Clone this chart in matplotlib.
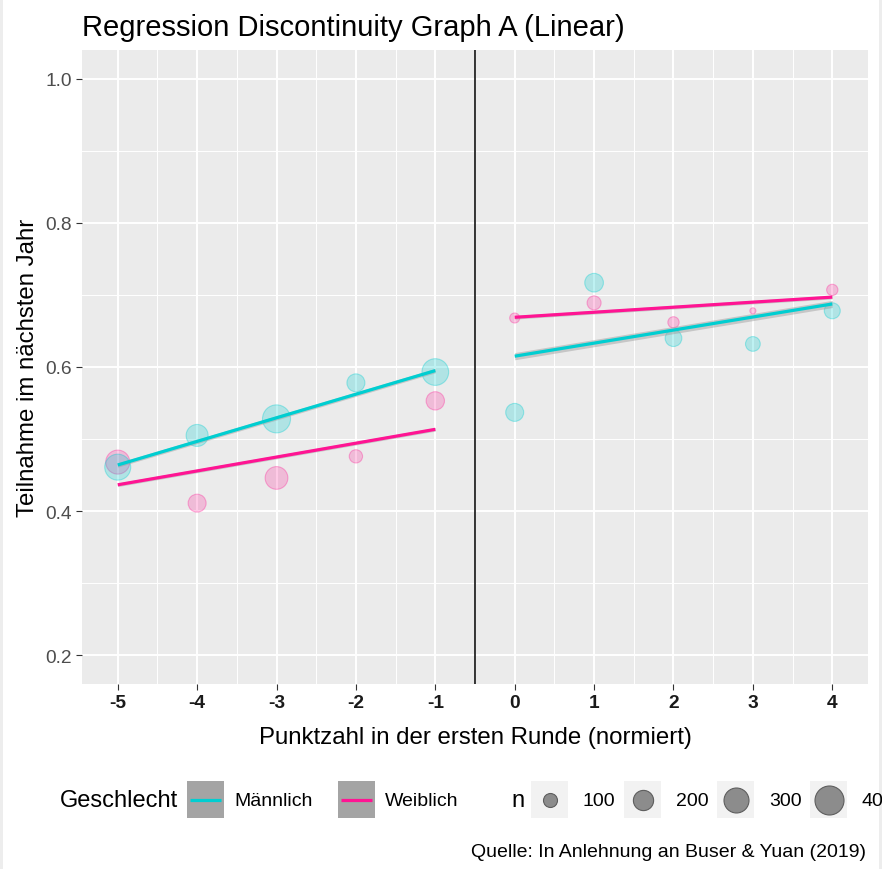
import numpy as np
import matplotlib
matplotlib.use("Agg")
import matplotlib.pyplot as plt
from matplotlib.patches import Rectangle

plt.rcParams['font.family'] = ['Liberation Sans', 'DejaVu Sans']

# ---------------- data ----------------
x_vals = [-5, -4, -3, -2, -1, 0, 1, 2, 3, 4]
male_y = [0.461, 0.505, 0.528, 0.578, 0.593, 0.537, 0.717, 0.640, 0.632, 0.678]
male_n = [324, 235, 374, 160, 341, 160, 172, 139, 110, 128]
female_y = [0.468, 0.411, 0.446, 0.476, 0.553, 0.668, 0.689, 0.662, 0.678, 0.707]
female_n = [278, 160, 250, 91, 166, 54, 100, 67, 22, 67]

# fitted regression lines: left segment and right segment
fit_x_left = [-5, -1]
fit_x_right = [0, 4]
male_fit_left = [0.464, 0.595]
male_fit_right = [0.615, 0.6875]
female_fit_left = [0.4365, 0.5135]
female_fit_right = [0.669, 0.697]
male_se_left = [0.003, 0.003]
male_se_right = [0.005, 0.005]
female_se_left = [0.0025, 0.0025]
female_se_right = [0.0025, 0.0025]

cutoff = -0.5
x_ticks = [-5, -4, -3, -2, -1, 0, 1, 2, 3, 4]
y_ticks = [0.2, 0.4, 0.6, 0.8, 1.0]
legend_n = [100, 200, 300, 400]
legend_labels = ['100', '200', '300', '400']
gender_labels = ['Männlich', 'Weiblich']

title = 'Regression Discontinuity Graph A (Linear)'
xlabel = 'Punktzahl in der ersten Runde (normiert)'
ylabel = 'Teilnahme im nächsten Jahr'
caption = 'Quelle: In Anlehnung an Buser & Yuan (2019)'

# ---------------- style ----------------
C_M = '#00CED1'
C_F = '#FF1493'
W, H = 882, 870
DPI = 100


def size_s(n):
    d_px = 1.5 * np.sqrt(np.asarray(n, dtype=float)) - 1.0
    return (d_px * 72.0 / DPI) ** 2


fig = plt.figure(figsize=(W / DPI, H / DPI), dpi=DPI, facecolor='white')

L, R, T, B = 82, 868, 51, 685
ax = fig.add_axes([L / W, 1 - B / H, (R - L) / W, (B - T) / H])
ax.set_facecolor('#EBEBEB')
ax.set_xlim(-5.45, 4.45)
ax.set_ylim(0.16, 1.04)
ax.set_xticks(x_ticks)
ax.set_xticks([v + 0.5 for v in x_ticks[:-1]], minor=True)
ax.set_yticks(y_ticks)
ax.set_yticks([0.3, 0.5, 0.7, 0.9], minor=True)
ax.set_yticklabels([f'{v:.1f}' for v in y_ticks])
ax.set_xticklabels([str(v) for v in x_ticks])
ax.grid(which='major', color='white', lw=1.4, zorder=0)
ax.grid(which='minor', color='white', lw=0.7, zorder=0)
ax.set_axisbelow(True)
for sp in ax.spines.values():
    sp.set_visible(False)
ax.tick_params(which='major', length=4.3, width=0.8, color='#333333', pad=3)
ax.tick_params(which='minor', length=0)
ax.tick_params(axis='y', labelsize=13.8, labelcolor='#4D4D4D')
ax.tick_params(axis='x', labelsize=13.8, labelcolor='#1A1A1A')
for lab in ax.get_xticklabels():
    lab.set_fontweight('bold')

# points (female first, male on top)
ax.scatter(x_vals, female_y, s=size_s(female_n), facecolor=(1, 20 / 255, 147 / 255, 0.22),
           edgecolor=(1, 20 / 255, 147 / 255, 0.32), linewidth=0.8, zorder=3)
ax.scatter(x_vals, male_y, s=size_s(male_n), facecolor=(0, 206 / 255, 209 / 255, 0.25),
           edgecolor=(0, 206 / 255, 209 / 255, 0.35), linewidth=0.8, zorder=3)

# ribbons and lines
for xs, ys, se, col in [(fit_x_left, male_fit_left, male_se_left, C_M),
                        (fit_x_right, male_fit_right, male_se_right, C_M),
                        (fit_x_left, female_fit_left, female_se_left, C_F),
                        (fit_x_right, female_fit_right, female_se_right, C_F)]:
    ys = np.asarray(ys)
    se = np.asarray(se)
    ax.fill_between(xs, ys - se, ys + se, color='#999999', alpha=0.45, lw=0, zorder=4)
    ax.plot(xs, ys, color=col, lw=2.3, zorder=5, solid_capstyle='butt')

ax.axvline(cutoff, color='black', lw=1.1, zorder=6)

ax.set_xlabel(xlabel, fontsize=17.3, color='black', labelpad=11)
ax.set_ylabel(ylabel, fontsize=17.3, color='black', labelpad=4.5)

# ---------------- overlay (title, legend, caption) ----------------
ov = fig.add_axes([0, 0, 1, 1], zorder=10)
ov.set_xlim(0, W)
ov.set_ylim(H, 0)
ov.axis('off')
ov.patch.set_alpha(0)

ov.text(82, 36, title, fontsize=21, ha='left', va='baseline', color='black')

ymid = 801
ov.text(60, ymid, 'Geschlecht', fontsize=17, ha='left', va='center')
gkeys = [(187, C_M), (338, C_F)]
for (kx, col), lab in zip(gkeys, gender_labels):
    ov.add_patch(Rectangle((kx, 782), 37, 37, facecolor='#A4A4A4', edgecolor='none'))
    ov.plot([kx + 3, kx + 34], [ymid, ymid], color=col, lw=2.3, solid_capstyle='butt')
    ov.text(kx + 47, ymid + 1, lab, fontsize=14, ha='left', va='center')

ov.text(511, ymid, 'n', fontsize=17, ha='left', va='center')
nx0 = 531
step = 93
for i, (nv, lab) in enumerate(zip(legend_n, legend_labels)):
    kx = nx0 + i * step
    ov.add_patch(Rectangle((kx, 782), 37, 37, facecolor='#F2F2F2', edgecolor='none'))
    ov.scatter([kx + 18.5], [ymid], s=size_s([nv]), facecolor='#8C8C8C',
               edgecolor='#5E5E5E', linewidth=0.8, zorder=11)
    ov.text(kx + 52, ymid + 1, lab, fontsize=14, ha='left', va='center', clip_on=False)

ov.text(866, 853, caption, fontsize=14, ha='right', va='center')

# thin frame on left/right edges
ov.add_patch(Rectangle((0, 0), 3, H, facecolor='#EDEDED', edgecolor='none'))
ov.add_patch(Rectangle((W - 3, 0), 3, H, facecolor='#EDEDED', edgecolor='none'))

fig.savefig('out.png', dpi=DPI, facecolor='white')
